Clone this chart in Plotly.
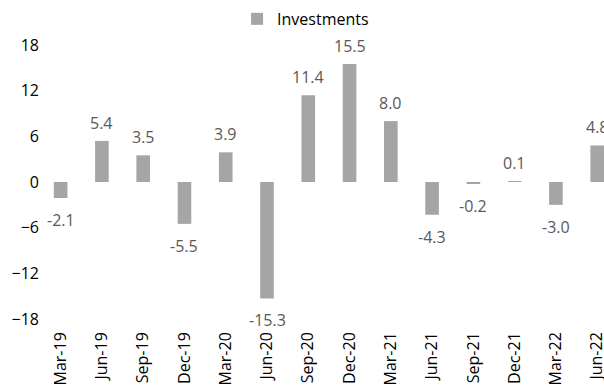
import plotly.graph_objects as go

categories = ["Mar-19", "Jun-19", "Sep-19", "Dec-19", "Mar-20", "Jun-20", "Sep-20",
              "Dec-20", "Mar-21", "Jun-21", "Sep-21", "Dec-21", "Mar-22", "Jun-22"]
investments = [-2.1, 5.4, 3.5, -5.5, 3.9, -15.3, 11.4, 15.5, 8.0, -4.3, -0.2, 0.1, -3.0, 4.8]
y_ticks = [-18, -12, -6, 0, 6, 12, 18]

FONT = "Open Sans, DejaVu Sans, sans-serif"

fig = go.Figure()
fig.add_trace(go.Bar(
    x=categories,
    y=investments,
    name="Investments",
    marker=dict(color="#A5A5A5", line=dict(width=0)),
    width=0.33,
))

# data labels: above positive bars, below negative bars
for cat, val in zip(categories, investments):
    pos = val >= 0
    fig.add_annotation(
        x=cat, y=val, text=f"{val:.1f}",
        showarrow=False,
        yanchor="bottom" if pos else "top",
        yshift=5 if pos else -9,
        font=dict(family=FONT, size=16, color="#595959"),
    )

fig.update_layout(
    width=604, height=389,
    margin=dict(l=40, r=0, t=45, b=70),
    paper_bgcolor="white", plot_bgcolor="white",
    font=dict(family=FONT, size=16, color="#000000"),
    showlegend=True,
    legend=dict(
        orientation="h",
        xref="container", yref="container",
        x=0.3925, xanchor="left",
        y=0.995, yanchor="top",
        font=dict(family=FONT, size=16, color="#000000"),
        bgcolor="rgba(0,0,0,0)",
    ),
)
fig.update_xaxes(
    type="category",
    range=[-0.5, 13.165],
    tickangle=-90,
    showgrid=False, showline=False, zeroline=False,
    ticks="",
    ticklabelstandoff=9,
    automargin=False,
    tickfont=dict(family=FONT, size=16, color="#000000"),
)
fig.update_yaxes(
    range=[-18, 18],
    tickvals=y_ticks,
    showgrid=False, showline=False, zeroline=False,
    ticks="",
    automargin=False,
    tickfont=dict(family=FONT, size=16, color="#000000"),
)

fig.write_html("out.html")
